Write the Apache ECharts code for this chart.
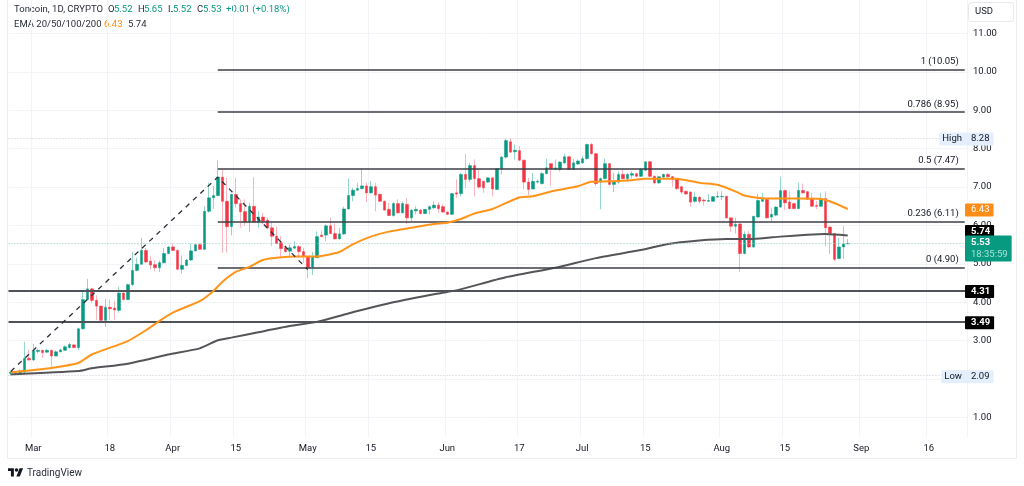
<!DOCTYPE html>
<html>
<head>
<meta charset="utf-8">
<title>Toncoin</title>
<style>
  html, body { margin: 0; padding: 0; background: #fff; }
  #chart { width: 1024px; height: 486px; }
</style>
<script src="https://cdn.jsdelivr.net/npm/echarts@6/dist/echarts.min.js"></script>
</head>
<body>
<div id="chart"></div>
<script>
const FONT = 'Roboto, sans-serif';
const TEXT = '#131722';
const UP = '#089981';
const DOWN = '#f23645';
const UP_WICK = '#94d6ca';
const DOWN_WICK = '#f9b4bd';

// daily bars, first one is 25 Feb 2024
const firstDay = '2024-02-25';
const dayCount = 213;

const opens = [
  2.15,2.15,2.16,2.18,2.54,2.50,2.72,2.75,2.70,2.75,2.60,2.71,2.75,2.82,2.89,2.82,3.31,4.07,4.35,4.05,
  3.90,3.53,3.87,3.85,3.79,4.24,4.07,4.46,4.83,4.99,5.35,5.07,4.98,4.90,5.03,5.27,5.44,5.35,4.86,4.96,
  5.10,5.34,5.50,5.38,6.37,6.72,6.78,7.26,6.63,5.97,6.81,6.57,6.36,6.09,6.50,6.09,6.22,6.14,5.94,5.72,
  5.55,5.42,5.33,5.41,5.45,5.32,5.19,4.92,5.16,5.75,5.75,5.99,5.79,5.65,5.78,6.43,6.78,6.92,6.96,7.03,
  6.85,7.01,6.81,6.63,6.42,6.26,6.57,6.33,6.55,6.20,6.38,6.40,6.31,6.42,6.46,6.53,6.49,6.35,6.29,6.85,
  6.83,7.33,7.20,7.56,7.22,7.15,7.13,7.24,6.94,7.48,7.78,8.18,7.92,7.95,7.70,7.13,6.95,7.13,7.09,7.35,
  7.61,7.46,7.46,7.63,7.79,7.46,7.60,7.63,7.74,8.11,7.87,7.13,7.22,7.61,7.07,7.13,7.33,7.22,7.31,7.35,
  7.28,7.44,7.66,7.28,7.11,7.26,7.33,7.27,7.22,7.01,6.89,6.87,6.63,6.74,6.66,6.63,6.63,6.74,6.75,6.76,
  6.20,5.98,6.04,5.27,5.77,5.44,6.22,6.63,6.68,6.22,6.27,6.48,6.91,6.61,6.57,6.44,6.91,6.88,6.69,6.52,
  6.50,6.70,5.96,5.79,5.14,5.44,5.52
];
const highs = [
  2.21,2.20,2.25,2.97,2.77,2.92,2.79,2.76,2.79,2.76,2.75,2.78,2.88,2.95,2.91,3.34,4.29,4.61,4.38,4.18,
  3.92,4.09,4.07,4.03,4.40,4.26,4.48,5.31,5.16,5.68,5.42,5.20,5.09,5.09,5.42,5.46,5.53,5.38,5.22,5.13,
  5.53,5.52,5.53,6.50,7.11,7.03,7.69,7.46,7.24,6.82,7.24,6.68,6.68,6.59,7.26,6.37,6.33,6.20,6.09,5.97,
  5.72,5.46,5.51,5.59,5.48,5.42,5.20,5.31,5.85,5.87,6.03,6.20,6.05,5.94,6.49,7.22,6.98,7.11,7.49,7.11,
  7.16,7.11,6.83,6.65,6.59,6.61,6.68,6.63,6.72,6.42,6.50,6.43,6.43,6.52,6.63,6.61,6.55,6.37,6.85,7.20,
  7.37,7.87,7.63,7.72,7.48,7.16,7.26,7.25,7.50,7.81,8.26,8.28,8.11,8.07,7.72,7.24,7.37,7.20,7.39,7.74,
  7.62,7.72,7.68,7.87,7.81,7.74,7.72,7.81,8.13,8.15,7.89,7.25,7.74,7.63,7.37,7.41,7.46,7.37,7.41,7.37,
  7.50,7.66,7.68,7.30,7.28,7.35,7.37,7.29,7.23,7.03,6.91,6.89,6.87,6.75,6.70,6.82,6.76,6.89,6.89,6.77,
  6.21,6.20,6.05,5.85,5.85,6.24,6.82,6.85,6.70,6.46,6.50,7.27,6.94,6.89,6.59,7.11,7.09,6.89,6.85,6.63,
  6.85,6.89,5.97,5.80,5.68,5.98,5.65
];
const lows = [
  2.09,2.12,2.14,2.17,2.47,2.47,2.67,2.55,2.69,2.32,2.60,2.70,2.73,2.80,2.81,2.75,3.29,4.06,3.97,3.54,
  3.52,3.36,3.54,3.54,3.73,4.06,4.06,4.42,4.81,4.98,5.03,4.86,4.81,4.79,5.01,5.25,5.34,4.86,4.75,4.94,
  5.08,5.32,5.38,5.36,6.33,6.43,6.76,5.29,5.29,5.74,6.46,5.94,6.00,5.83,6.07,5.94,6.03,5.90,5.46,5.51,
  5.16,5.29,5.19,5.39,5.16,5.03,4.62,4.71,5.16,5.70,5.59,5.78,5.64,5.64,5.75,6.42,6.63,6.89,6.94,6.61,
  6.83,6.37,6.61,6.39,6.24,6.23,6.31,6.31,6.03,6.11,6.29,6.29,6.30,6.29,6.43,6.33,6.33,6.27,6.27,6.72,
  6.76,6.98,7.13,6.75,6.96,6.85,7.11,6.76,6.92,7.33,7.74,7.89,7.72,7.68,6.94,6.79,6.94,7.09,7.07,7.33,
  7.04,7.46,7.41,7.61,7.44,7.44,7.58,7.61,7.72,7.85,7.02,6.42,7.20,7.04,6.87,7.09,7.20,7.14,7.22,7.27,
  7.27,7.41,7.27,7.07,7.08,7.24,7.24,7.01,6.92,6.82,6.80,6.49,6.59,6.57,6.52,6.62,6.62,6.72,6.66,6.18,
  5.83,5.79,4.79,5.25,5.42,5.42,6.20,6.61,6.18,6.09,6.24,6.46,6.40,6.42,6.42,6.42,6.83,6.66,6.49,6.43,
  6.49,5.46,5.25,5.07,5.13,5.13,5.52
];
const closes = [
  2.18,2.17,2.21,2.54,2.50,2.74,2.75,2.69,2.75,2.60,2.71,2.76,2.84,2.90,2.82,3.31,4.07,4.35,4.05,3.90,
  3.53,3.87,3.83,3.80,4.24,4.07,4.46,4.83,4.99,5.35,5.05,4.97,4.90,5.03,5.27,5.44,5.35,4.86,4.96,5.10,
  5.34,5.50,5.38,6.37,6.72,6.78,7.26,6.63,5.97,6.81,6.57,6.36,6.09,6.50,6.09,6.22,6.11,5.94,5.72,5.53,
  5.40,5.32,5.42,5.45,5.32,5.20,4.90,5.19,5.71,5.71,5.99,5.79,5.65,5.78,6.43,6.78,6.92,6.96,7.03,6.85,
  7.01,6.79,6.63,6.40,6.26,6.57,6.33,6.57,6.20,6.40,6.42,6.31,6.42,6.49,6.53,6.44,6.35,6.29,6.83,6.82,
  7.33,7.20,7.56,7.22,7.00,6.98,7.24,6.95,7.48,7.78,8.21,7.91,7.96,7.70,7.13,6.94,7.15,7.15,7.35,7.50,
  7.48,7.50,7.65,7.79,7.46,7.63,7.68,7.74,8.11,7.87,7.09,7.22,7.61,7.07,7.15,7.33,7.22,7.33,7.35,7.28,
  7.46,7.66,7.28,7.11,7.27,7.33,7.27,7.20,6.96,6.87,6.82,6.61,6.74,6.63,6.64,6.65,6.75,6.76,6.76,6.20,
  5.98,6.03,5.27,5.77,5.44,6.24,6.65,6.68,6.20,6.29,6.48,6.91,6.59,6.44,6.44,6.91,6.85,6.68,6.50,6.50,
  6.70,5.94,5.79,5.12,5.44,5.52,5.53
];

// moving averages, read at a few bars only
const emaOrangeBars = [0,3,9,15,18,26,30,33,36,42,45,47,50,53,56,59,64,68,73,76,80,84,90,95,97,100,103,107,113,116,121,126,129,133,138,141,144,148,153,157,161,163,168,175,180,182,186];
const emaOrange = [2.18,2.21,2.29,2.42,2.64,2.99,3.27,3.51,3.73,4.03,4.29,4.53,4.79,4.92,5.10,5.16,5.19,5.19,5.31,5.51,5.71,5.84,5.96,6.05,6.07,6.17,6.31,6.43,6.73,6.76,6.91,7.02,7.14,7.15,7.18,7.22,7.22,7.22,7.11,7.06,6.89,6.78,6.70,6.70,6.69,6.63,6.43];
const emaGrayBars = [0,15,18,26,35,42,46,49,55,62,68,75,85,95,99,110,121,130,140,146,153,159,165,171,177,181,186];
const emaGray = [2.12,2.21,2.28,2.40,2.64,2.80,3.01,3.08,3.22,3.38,3.49,3.71,4.00,4.23,4.31,4.65,4.90,5.15,5.36,5.52,5.61,5.65,5.65,5.71,5.76,5.78,5.74];

// dashed leg of the fib tool
const legBars = [0,46,66];
const legValues = [2.20,7.26,4.85];

const fibRatios = ['1','0.786','0.5','0.236','0'];
const fibValues = [10.05,8.95,7.47,6.11,4.90];
const fibStartBar = 46;

const priceLines = [4.31,3.49];
const highValue = 8.28;
const lowValue = 2.09;
const lastPrice = 5.53;
const countdown = '18:35:59';
const emaLast = [6.43,5.74];

const yTicks = [1,2,3,4,5,6,7,8,9,10,11];
const tickDates = ['2024-03-01','2024-03-18','2024-04-01','2024-04-15','2024-05-01','2024-05-15','2024-06-01','2024-06-17','2024-07-01','2024-07-15','2024-08-01','2024-08-15','2024-09-01','2024-09-16'];
const tickTexts = ['Mar','18','Apr','15','May','15','Jun','17','Jul','15','Aug','15','Sep','16'];

const days = [];
for (let i = 0; i < dayCount; i++) {
  const d = new Date(firstDay + 'T00:00:00Z');
  d.setUTCDate(d.getUTCDate() + i);
  days.push(d.toISOString().slice(0, 10));
}
const isTick = (idx) => tickDates.includes(days[idx]);

const fix = (v) => v.toFixed(2);
const tagLabel = (text, bg, color, extra) => Object.assign({
  show: true, position: 'end', distance: 0, offset: [-2, 1], formatter: text, backgroundColor: bg, color: color,
  fontFamily: FONT, fontSize: 9.5, padding: [1, 4, 0, 6], borderRadius: 1, lineHeight: 12,
}, extra);
const nameLabel = (text) => ({
  show: true, position: 'insideEnd', distance: 2, offset: [0, 1], formatter: text, backgroundColor: '#e3effd', color: TEXT,
  fontFamily: FONT, fontSize: 9.5, padding: [1, 3, 0, 3], lineHeight: 12,
});
const noLine = { width: 1, color: 'rgba(0,0,0,0)', opacity: 1 };
const dotted = (color) => ({ width: 1, type: [1, 2], color: color, opacity: 1 });

const fibLines = fibValues.map((v, i) => [
  {
    xAxis: days[fibStartBar], yAxis: v,
    label: {
      show: true, position: 'insideEndTop', distance: [6, 3], formatter: fibRatios[i] + ' (' + fix(v) + ')',
      color: TEXT, fontFamily: FONT, fontSize: 9.5,
    },
    lineStyle: { color: '#3c3f47', width: 1.6, type: 'solid' },
  },
  { xAxis: days[dayCount - 1], yAxis: v },
]);

const tags = [
  { yAxis: highValue, lineStyle: dotted('#c9cbd0'), label: tagLabel(fix(highValue), '#e3effd', TEXT) },
  { yAxis: highValue, lineStyle: noLine, label: nameLabel('High') },
  { yAxis: lowValue, lineStyle: dotted('#c9cbd0'), label: tagLabel(fix(lowValue), '#e3effd', TEXT) },
  { yAxis: lowValue, lineStyle: noLine, label: nameLabel('Low') },
  { yAxis: emaLast[0], lineStyle: noLine, label: tagLabel(fix(emaLast[0]), '#ff8c14', '#fff') },
  // pushed up so it clears the last-price box, as the platform does
  { yAxis: emaLast[1], lineStyle: noLine, label: tagLabel(fix(emaLast[1]), '#000', '#fff', { fontWeight: 'bold', offset: [-2, -4] }) },
].concat(priceLines.map((v) => ({
  yAxis: v, lineStyle: { color: '#4f5258', width: 1.8, type: 'solid', opacity: 1 },
  label: tagLabel(fix(v), '#000', '#fff', { fontWeight: 'bold' }),
}))).concat([{
  yAxis: lastPrice, lineStyle: dotted('#8ccdc1'),
  label: {
    show: true, position: 'end', distance: 0, offset: [-2, 5],
    formatter: '{a|' + fix(lastPrice) + '}\n{b|' + countdown + '}',
    backgroundColor: UP, padding: [1, 4, 1, 6], borderRadius: 1,
    rich: {
      a: { color: '#fff', fontFamily: FONT, fontSize: 9.5, fontWeight: 'bold', lineHeight: 12 },
      b: { color: '#a9e2d7', fontFamily: FONT, fontSize: 9.5, lineHeight: 12 },
    },
  },
}]);

const last = opens.length - 1;
const legendTexts = [
  { x: 14, text: 'Toncoin, 1D, CRYPTO', fill: '#2a2e39' },
  { x: 108, text: 'O', fill: '#2a2e39' }, { x: 114, text: fix(opens[last]), fill: UP },
  { x: 138, text: 'H', fill: '#2a2e39' }, { x: 144, text: fix(highs[last]), fill: UP },
  { x: 168, text: 'L', fill: '#2a2e39' }, { x: 173, text: fix(lows[last]), fill: UP },
  { x: 197, text: 'C', fill: '#2a2e39' }, { x: 203, text: fix(closes[last]), fill: UP },
  { x: 226, text: '+0.01 (+0.18%)', fill: UP },
];
const legendTexts2 = [
  { x: 14, text: 'EMA 20/50/100/200', fill: '#2a2e39' },
  { x: 104, text: fix(emaLast[0]), fill: '#ff8c14' },
  { x: 128, text: fix(emaLast[1]), fill: '#2a2e39' },
];
const headerItem = (t, y) => ({
  type: 'text', x: t.x, y: y,
  style: { text: t.text, fill: t.fill, font: '9.5px ' + FONT, textVerticalAlign: 'middle' },
});

const chart = echarts.init(document.getElementById('chart'), null, { renderer: 'canvas' });
chart.setOption({
  animation: false,
  backgroundColor: '#ffffff',
  textStyle: { fontFamily: FONT },
  grid: { left: 8.5, right: 57, top: 0, bottom: 49 },
  xAxis: {
    type: 'category',
    data: days,
    boundaryGap: true,
    axisLine: { show: false },
    axisTick: { show: false },
    splitLine: { show: true, interval: (idx) => isTick(idx), lineStyle: { color: '#f3f4f7', width: 1 } },
    axisLabel: {
      interval: (idx) => isTick(idx),
      hideOverlap: false,
      margin: 7,
      color: TEXT,
      fontSize: 9.5,
      fontFamily: FONT,
      formatter: (val) => tickTexts[tickDates.indexOf(val)],
    },
  },
  yAxis: {
    type: 'value',
    position: 'right',
    min: 0.492,
    max: 11.872,
    scale: true,
    axisLine: { show: false },
    axisTick: { show: false, customValues: yTicks },
    splitLine: { show: true, lineStyle: { color: '#f3f4f7', width: 1 } },
    axisLabel: {
      customValues: yTicks,
      margin: 6,
      padding: [3, 0, 0, 0],
      color: TEXT,
      fontSize: 9.5,
      fontFamily: FONT,
      formatter: (v) => fix(v),
    },
  },
  series: [
    {
      name: 'wicks',
      type: 'candlestick',
      barWidth: 1,
      data: opens.map((o, i) => [o, closes[i], lows[i], highs[i]]),
      itemStyle: { color: UP_WICK, color0: DOWN_WICK, borderColor: UP_WICK, borderColor0: DOWN_WICK, borderWidth: 1 },
      z: 2,
    },
    {
      name: 'bodies',
      type: 'candlestick',
      barWidth: 3,
      data: opens.map((o, i) => [o, closes[i], Math.min(o, closes[i]), Math.max(o, closes[i])]),
      itemStyle: { color: UP, color0: DOWN, borderColor: UP, borderColor0: DOWN, borderWidth: 0.5 },
      z: 3,
    },
    {
      name: 'EMA 200',
      type: 'line',
      data: emaGrayBars.map((b, i) => [b, emaGray[i]]),
      showSymbol: false,
      smooth: 0.2,
      lineStyle: { color: '#555559', width: 2 },
      z: 4,
    },
    {
      name: 'EMA 50',
      type: 'line',
      data: emaOrangeBars.map((b, i) => [b, emaOrange[i]]),
      showSymbol: false,
      smooth: 0.2,
      lineStyle: { color: '#ff9419', width: 2 },
      z: 5,
    },
    {
      name: 'fib leg',
      type: 'line',
      data: legBars.map((b, i) => [b, legValues[i]]),
      showSymbol: false,
      lineStyle: { color: '#2a2e39', width: 1.3, type: [5, 5] },
      z: 6,
    },
    {
      name: 'levels',
      type: 'line',
      data: [],
      z: 7,
      markLine: {
        silent: true,
        symbol: 'none',
        animation: false,
        precision: 2,
        data: fibLines.concat(tags),
      },
    },
  ],
  graphic: [
    { type: 'polyline', silent: true, z: 0, shape: { points: [[7.5, 0], [7.5, 458.5], [1016.5, 458.5], [1016.5, 0]] }, style: { stroke: '#eceef2', lineWidth: 1, fill: null } },
    { type: 'rect', z: 100, shape: { x: 968.5, y: 2.5, width: 45, height: 19, r: 3 }, style: { fill: '#fff', stroke: '#e6e8ee', lineWidth: 1 } },
    { type: 'text', z: 101, x: 975, y: 12, style: { text: 'USD', fill: TEXT, font: '9.5px ' + FONT, textVerticalAlign: 'middle' } },
    { type: 'polygon', z: 100, x: 8, y: 466.5, scaleX: 0.42, scaleY: 0.42, shape: { points: [[0, 4], [14, 4], [14, 24], [7, 24], [7, 11], [0, 11]] }, style: { fill: '#131722' } },
    { type: 'polygon', z: 100, x: 8, y: 466.5, scaleX: 0.42, scaleY: 0.42, shape: { points: [[20, 24], [28, 24], [36, 4], [27.5, 4]] }, style: { fill: '#131722' } },
    { type: 'circle', z: 100, shape: { cx: 16.5, cy: 470, r: 1.8 }, style: { fill: '#131722' } },
    { type: 'text', z: 100, x: 27, y: 473, style: { text: 'TradingView', fill: '#2a2e39', font: '10px ' + FONT, textVerticalAlign: 'middle' } },
  ].concat(legendTexts.map((t) => headerItem(t, 10)), legendTexts2.map((t) => headerItem(t, 25))),
});
</script>
</body>
</html>
